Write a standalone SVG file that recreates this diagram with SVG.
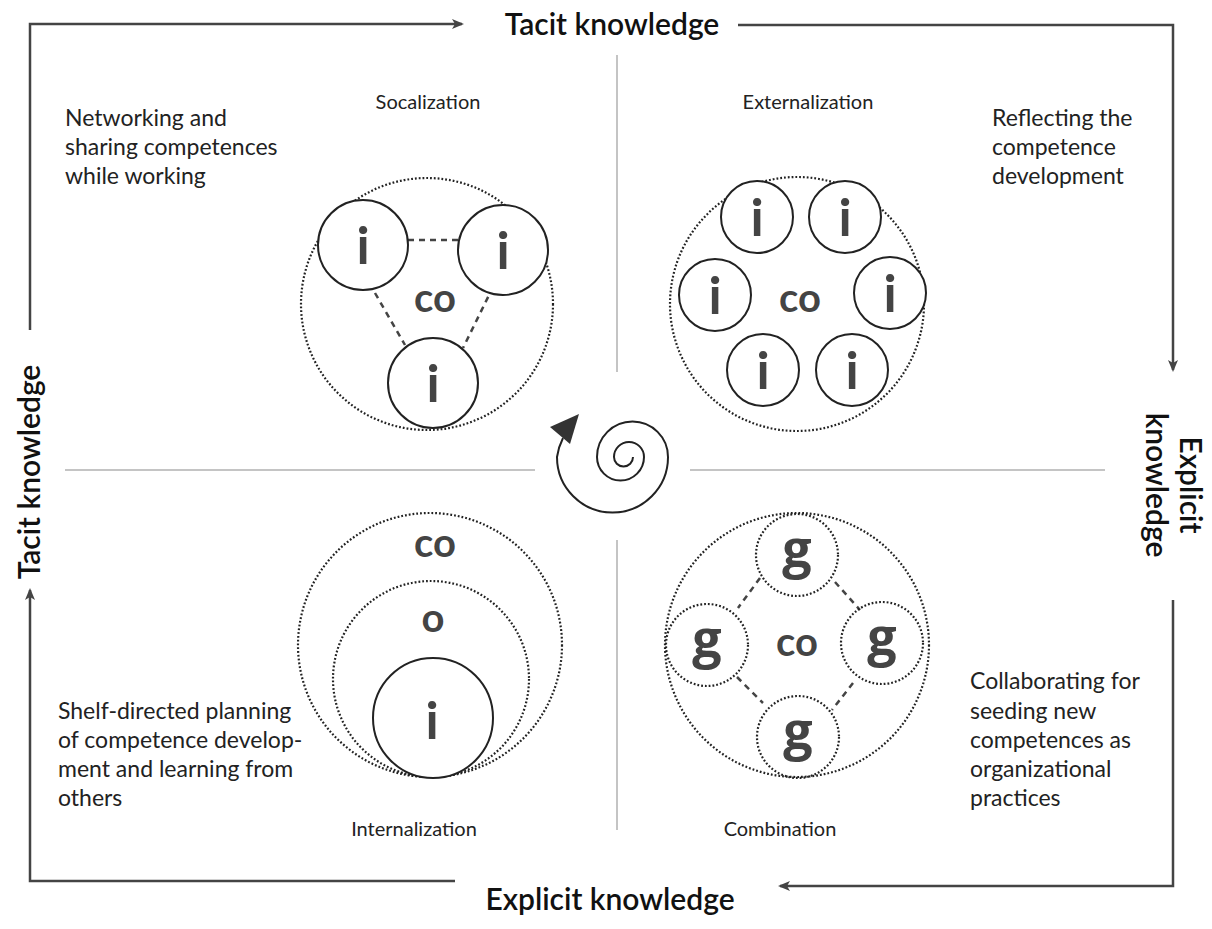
<svg xmlns="http://www.w3.org/2000/svg" width="1212" height="929" viewBox="0 0 1212 929">
<defs>
<marker id="ah" viewBox="0 0 12 10" refX="10" refY="5" markerWidth="12" markerHeight="10" markerUnits="userSpaceOnUse" orient="auto">
<path d="M0,0 L12,5 L0,10 L3,5 Z" fill="#444"/>
</marker>
<style>
.frame{fill:none;stroke:#444;stroke-width:2.5}
.div{stroke:#b0b0b0;stroke-width:1.5}
.dot{fill:none;stroke:#222;stroke-width:2.2;stroke-dasharray:1.8 2}
.sol{fill:#fff;stroke:#222;stroke-width:2}
.dash{stroke:#444;stroke-width:2.5;stroke-dasharray:6 5}
.t{font-family:Lato,"Open Sans",sans-serif;font-size:20px;fill:#222}
.d{font-family:Lato,"Open Sans",sans-serif;font-size:23px;fill:#222}
.h{font-family:Lato,"Open Sans",sans-serif;font-size:30px;fill:#111;font-weight:600}
.big{font-family:Lato,"Open Sans",sans-serif;font-size:52px;fill:#444;font-weight:700;text-anchor:middle}
.g{font-family:"Open Sans",Lato,sans-serif;font-size:52px;fill:#444;font-weight:700;text-anchor:middle}
.co{font-family:Lato,"Open Sans",sans-serif;font-size:40px;fill:#444;font-weight:700;text-anchor:middle}
</style>
</defs>
<rect width="1212" height="929" fill="#fff"/>

<g id="connectors">
<path class="frame" d="M30,330 V24 H462" marker-end="url(#ah)"/>
<path class="frame" d="M738,25 H1173 V370" marker-end="url(#ah)"/>
<path class="frame" d="M1173,600 V886 H780" marker-end="url(#ah)"/>
<path class="frame" d="M455,881 H30 V590" marker-end="url(#ah)"/>
<line class="div" x1="617" y1="55" x2="617" y2="372"/>
<line class="div" x1="617" y1="540" x2="617" y2="830"/>
<line class="div" x1="65" y1="470" x2="535" y2="470"/>
<line class="div" x1="690" y1="470" x2="1105" y2="470"/>
</g>

<g id="axis-labels">
<text class="h" x="612" y="35" text-anchor="middle">Tacit knowledge</text>
<text class="h" x="610" y="910" text-anchor="middle">Explicit knowledge</text>
<text class="h" transform="translate(40,472) rotate(-90)" text-anchor="middle">Tacit knowledge</text>
<text class="h" transform="translate(1180,485) rotate(90)" text-anchor="middle">Explicit</text>
<text class="h" transform="translate(1146,485) rotate(90)" text-anchor="middle">knowledge</text>
</g>

<g id="descriptions">
<text class="d" x="65" y="126">Networking and</text>
<text class="d" x="65" y="155">sharing competences</text>
<text class="d" x="65" y="184">while working</text>
<text class="d" x="992" y="126">Reflecting the</text>
<text class="d" x="992" y="155">competence</text>
<text class="d" x="992" y="184">development</text>
<text class="d" x="58" y="719">Shelf-directed planning</text>
<text class="d" x="58" y="748">of competence develop-</text>
<text class="d" x="58" y="777">ment and learning from</text>
<text class="d" x="58" y="806">others</text>
<text class="d" x="970" y="689">Collaborating for</text>
<text class="d" x="970" y="719">seeding new</text>
<text class="d" x="970" y="748">competences as</text>
<text class="d" x="970" y="777">organizational</text>
<text class="d" x="970" y="806">practices</text>
</g>

<g id="socialization">
<text class="t" x="428" y="109" text-anchor="middle">Socalization</text>
<circle class="dot" cx="427" cy="304" r="126"/>
<line class="dash" x1="408" y1="240" x2="462" y2="240"/>
<line class="dash" x1="375" y1="293" x2="405" y2="345"/>
<line class="dash" x1="493" y1="287" x2="463" y2="348"/>
<circle class="sol" cx="363" cy="245" r="45"/>
<circle class="sol" cx="503" cy="250" r="45"/>
<circle class="sol" cx="433" cy="383" r="45"/>
<text class="big" x="363" y="264">i</text>
<text class="big" x="503" y="269">i</text>
<text class="big" x="433" y="402">i</text>
<text class="co" x="435" y="312">co</text>
</g>

<g id="externalization">
<text class="t" x="808" y="109" text-anchor="middle">Externalization</text>
<circle class="dot" cx="797" cy="304" r="127"/>
<circle class="sol" cx="757" cy="217" r="36"/>
<circle class="sol" cx="845" cy="217" r="36"/>
<circle class="sol" cx="715" cy="295" r="36"/>
<circle class="sol" cx="890" cy="293" r="36"/>
<circle class="sol" cx="763" cy="370" r="36"/>
<circle class="sol" cx="852" cy="370" r="36"/>
<text class="big" x="757" y="236">i</text>
<text class="big" x="845" y="236">i</text>
<text class="big" x="715" y="314">i</text>
<text class="big" x="890" y="312">i</text>
<text class="big" x="763" y="389">i</text>
<text class="big" x="852" y="389">i</text>
<text class="co" x="800" y="312">co</text>
</g>

<g id="spiral">
<path d="M633,457 A9.5,9.5 0 0 1 614,457 A15,15 0 0 1 644,457 A23.5,23.5 0 0 1 597,457 A35.5,35.5 0 0 1 668,457 A55.5,55.5 0 0 1 557,457 A62,62 0 0 1 563,438" fill="none" stroke="#222" stroke-width="2"/>
<polygon points="550,427 579,414 570,444" fill="#333"/>
</g>

<g id="internalization">
<text class="t" x="414" y="836" text-anchor="middle">Internalization</text>
<circle class="dot" cx="430" cy="645" r="132"/>
<circle class="dot" cx="431" cy="679" r="98"/>
<circle class="sol" cx="433" cy="718" r="60"/>
<text class="co" x="435" y="557">co</text>
<text class="co" x="433" y="632">o</text>
<text class="big" x="432" y="739">i</text>
</g>

<g id="combination">
<text class="t" x="780" y="836" text-anchor="middle">Combination</text>
<circle class="dot" cx="797" cy="645" r="132"/>
<line class="dash" x1="760" y1="578" x2="738" y2="608"/>
<line class="dash" x1="835" y1="582" x2="860" y2="610"/>
<line class="dash" x1="737" y1="677" x2="763" y2="703"/>
<line class="dash" x1="853" y1="683" x2="832" y2="710"/>
<circle class="dot" cx="797" cy="555" r="41"/>
<circle class="dot" cx="707" cy="645" r="41"/>
<circle class="dot" cx="882" cy="643" r="41"/>
<circle class="dot" cx="798" cy="737" r="41"/>
<text class="g" x="797" y="567">g</text>
<text class="g" x="707" y="657">g</text>
<text class="g" x="882" y="655">g</text>
<text class="g" x="798" y="749">g</text>
<text class="co" x="797" y="656">co</text>
</g>
</svg>
